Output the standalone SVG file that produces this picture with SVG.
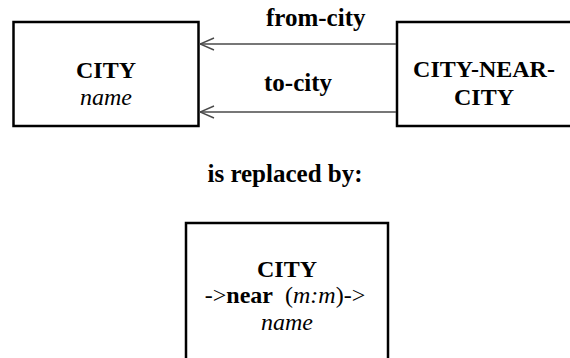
<svg xmlns="http://www.w3.org/2000/svg" width="570" height="358" viewBox="0 0 570 358">
  <style>
    .box { fill: #fff; stroke: #000; stroke-width: 2.5; }
    .t { font-family: 'Liberation Serif', 'DejaVu Serif', serif; font-size: 24px; fill: #000; }
    .lbl { font-size: 25px; }
    .b { font-weight: bold; }
    .i { font-style: italic; }
    .mid { text-anchor: middle; }
    .link { fill: none; stroke: #4a4a4a; stroke-width: 1.5; }
  </style>
  <defs>
    <!-- open chevron arrowhead, tip at the end of the line -->
    <marker id="open-head" viewBox="0 0 16 14" refX="15" refY="7" markerWidth="16" markerHeight="14" markerUnits="userSpaceOnUse" orient="auto">
      <path d="M1,1 L15,7 L1,13" fill="none" stroke="#4a4a4a" stroke-width="1.4"/>
    </marker>
  </defs>

  <rect width="570" height="358" fill="#fff"/>

  <g id="city">
    <rect class="box" x="13.5" y="22" width="185" height="104"/>
    <text class="t b mid" x="106" y="77.5">CITY</text>
    <text class="t i mid" x="106" y="105">name</text>
  </g>

  <g id="city-near-city">
    <rect class="box" x="397" y="22" width="190" height="104"/>
    <text class="t b mid" x="484" y="77">CITY-NEAR-</text>
    <text class="t b mid" x="484" y="105">CITY</text>
  </g>

  <g id="connectors">
    <line class="link" x1="396" y1="44" x2="200" y2="44" marker-end="url(#open-head)"/>
    <line class="link" x1="396" y1="112" x2="200" y2="112" marker-end="url(#open-head)"/>
    <text class="t lbl b" x="266" y="26">from-city</text>
    <text class="t lbl b" x="264" y="91">to-city</text>
  </g>

  <g id="caption">
    <text class="t lbl b mid" x="285" y="182">is replaced by:</text>
  </g>

  <g id="city-merged">
    <rect class="box" x="186" y="223" width="202" height="150"/>
    <text class="t b mid" x="287" y="277">CITY</text>
    <text class="t mid" x="285" y="303" xml:space="preserve">-&gt;<tspan class="b">near</tspan>  (<tspan class="i">m:m</tspan>)-&gt;</text>
    <text class="t i mid" x="287" y="330">name</text>
  </g>
</svg>
